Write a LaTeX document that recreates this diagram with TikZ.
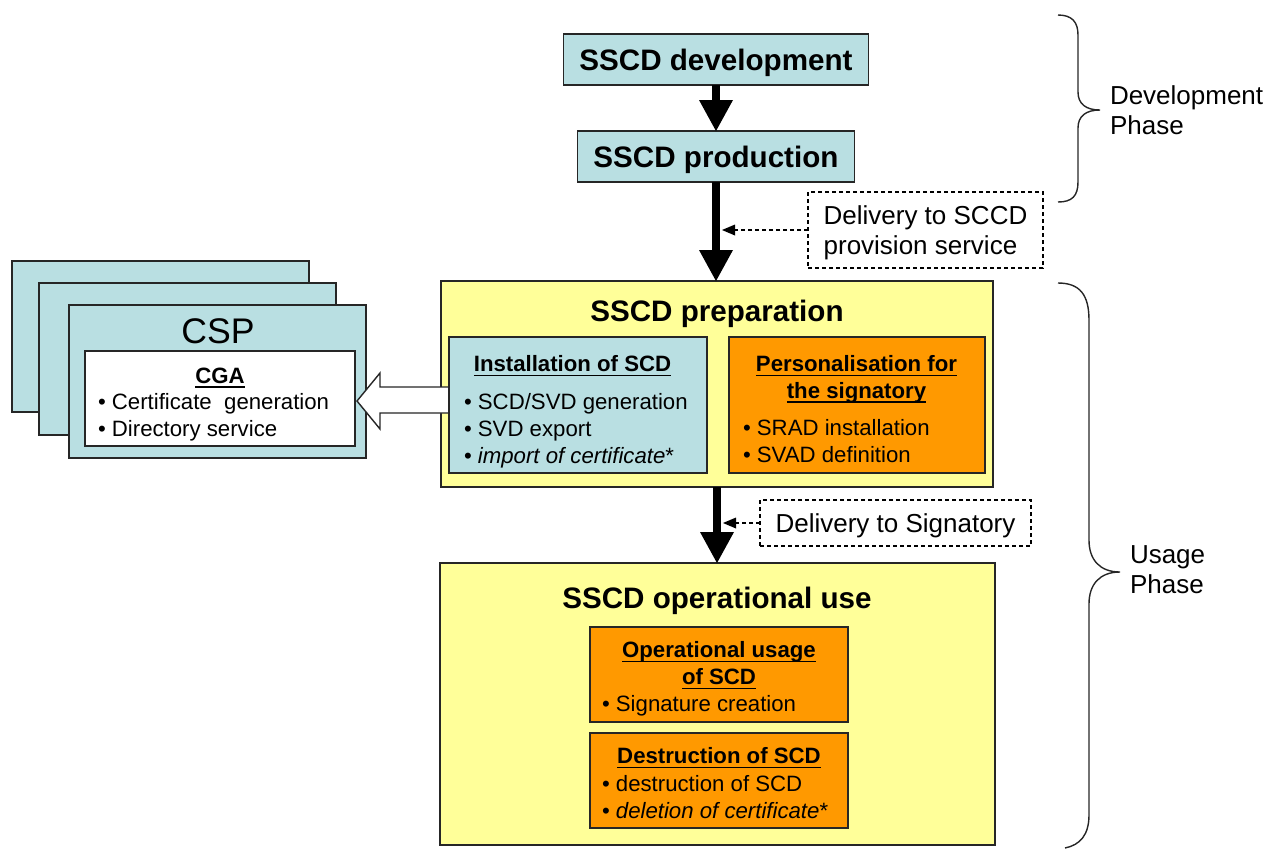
\documentclass[tikz,border=0pt]{standalone}
\usepackage{fontspec}
\setmainfont{Liberation Sans}
\usetikzlibrary{arrows.meta,calc}
\definecolor{boxblue}{RGB}{185,223,226}
\definecolor{boxyellow}{RGB}{255,255,153}
\definecolor{boxorange}{RGB}{255,153,0}
\newcommand\hul[1]{\setbox0=\hbox{#1}\rlap{\rule[-2.2pt]{\wd0}{0.8pt}}\box0}
\begin{document}
\begin{tikzpicture}[x=0.5pt,y=-0.5pt,
  box/.style={draw=black!85, line width=0.7pt, inner sep=0pt, outer sep=0pt},
  dbox/.style={draw=black, line width=0.6pt, dash pattern=on 2pt off 1.5pt, inner sep=0pt, outer sep=0pt},
  txt/.style={inner sep=0pt, outer sep=0pt},
  bigb/.style={font=\bfseries\fontsize{14.8pt}{18pt}\selectfont},
  midt/.style={font=\fontsize{13pt}{15pt}\selectfont},
  smt/.style={font=\fontsize{11.1pt}{13.5pt}\selectfont},
  smb/.style={font=\bfseries\fontsize{11.1pt}{13.5pt}\selectfont},
  bigarrow/.style={line width=4pt, -{Triangle[width=17pt,length=15.5pt,line width=0pt]}},
  dasharr/.style={line width=0.6pt, dash pattern=on 2pt off 1.5pt, -{Triangle[width=5.5pt,length=6.5pt,line width=0pt]}},
  bracepath/.style={line width=0.7pt, black!85},
  hollow/.style={draw=black!85, line width=0.7pt, fill=white, line join=miter}
]
\useasboundingbox (0,0) rectangle (1266,848);

% top boxes
\node[box, fill=boxblue, minimum width=152.5pt, minimum height=25.5pt, bigb, text depth=0pt] (dev) at (716,59.5) {SSCD development};
\node[box, fill=boxblue, minimum width=138.5pt, minimum height=25.5pt, bigb, text depth=0pt] (prod) at (716,156.5) {SSCD production};
\node[dbox, minimum width=117.5pt, minimum height=38pt, midt, align=left, text depth=0pt] (del1) at (925.5,230) {Delivery to SCCD\\provision service};

% CSP stack
\node[box, fill=boxblue, minimum width=148.5pt, minimum height=75.5pt] (csp3) at (160.5,336.5) {};
\node[box, fill=boxblue, minimum width=148.5pt, minimum height=76pt] (csp2) at (187.5,359) {};
\node[box, fill=boxblue, minimum width=148.5pt, minimum height=76.5pt] (csp1) at (217.5,381.5) {};
\node[txt, font=\fontsize{17.8pt}{20pt}\selectfont] (csptxt) at (218,331.5) {CSP};
\node[box, fill=white, minimum width=135pt, minimum height=47.5pt] (cga) at (220,398.5) {};
\node[txt, smb] (cgahead) at (220,378) {\hul{CGA}};
\node[txt, smt, align=left, anchor=west] (cgalist) at (98,417.5) {\textbullet\ Certificate~ generation\\\textbullet\ Directory service};

% preparation
\node[box, fill=boxyellow, minimum width=276pt, minimum height=103pt] (prep) at (717,384) {};
\node[txt, bigb] (preptitle) at (717,314) {SSCD preparation};
\draw[hollow] ([xshift=1pt,yshift=-1.25pt]cga.east) -- ++(23,-28) -- ++(0,14) -- ++(69,0) -- ++(0,26) -- ++(-69,0) -- ++(0,16) -- cycle;
\node[box, fill=boxblue, minimum width=129pt, minimum height=68pt] (inst) at (578,405) {};
\node[box, fill=boxorange, minimum width=128pt, minimum height=68pt] (pers) at (857,405) {};
\node[txt, smb] (insthead) at (572.5,366) {\hul{Installation of SCD}};
\node[txt, smt, align=left, anchor=west] (instlist) at (464,431) {\textbullet\ SCD/SVD generation\\\textbullet\ SVD export\\\textbullet\ \textit{import of certificate}*};
\node[txt, smb, align=center] (pershead) at (856.5,379.5) {\hul{Personalisation for}\\\hul{the signatory}};
\node[txt, smt, align=left, anchor=west] (perslist) at (743,441.5) {\textbullet\ SRAD installation\\\textbullet\ SVAD definition};

% delivery to signatory
\node[dbox, minimum width=135.5pt, minimum height=23pt, midt, text depth=0pt] (del2) at (895.5,523) {Delivery to Signatory};

% operational use
\node[box, fill=boxyellow, minimum width=277.5pt, minimum height=141pt] (oper) at (717.5,704) {};
\node[txt, bigb] (opertitle) at (717,601) {SSCD operational use};
\node[box, fill=boxorange, minimum width=129pt, minimum height=47.5pt] (usage) at (719,674.5) {};
\node[txt, smb, align=center] (usagehead) at (719,665.5) {\hul{Operational usage}\\\hul{of SCD}};
\node[txt, smt, anchor=west] (usagelist) at (602,706) {\textbullet\ Signature creation};
\node[box, fill=boxorange, minimum width=129pt, minimum height=47.5pt] (destr) at (719,780.5) {};
\node[txt, smb] (destrhead) at (719,758) {\hul{Destruction of SCD}};
\node[txt, smt, align=left, anchor=west] (destrlist) at (602,797.5) {\textbullet\ destruction of SCD\\\textbullet\ \textit{deletion of certificate}*};

% arrows
\draw[bigarrow] (dev.south) -- (prod.north);
\draw[bigarrow] (prod.south) -- (prod.south |- prep.north);
\draw[bigarrow] (prep.south) -- (prep.south |- oper.north);
\draw[dasharr] (del1.west) -- ($(prod.south |- del1.west)+(6,0)$);
\draw[dasharr] (del2.west) -- ($(prep.south |- del2.west)+(6,0)$);

% braces and phase labels
\draw[bracepath] (1058,15) .. controls (1072,15) and (1078,22) .. (1078,35) -- (1078,92) .. controls (1078,104) and (1086,110) .. (1100,110) .. controls (1086,110) and (1078,116) .. (1078,128) -- (1078,182) .. controls (1078,196) and (1072,202) .. (1058,202);
\draw[bracepath] (1058,283) .. controls (1080,283) and (1089,295) .. (1089,320) -- (1089,540) .. controls (1089,560) and (1100,572) .. (1120,572) .. controls (1100,572) and (1089,584) .. (1089,604) -- (1089,815) .. controls (1089,835) and (1080,845) .. (1065,848);
\node[txt, midt, align=left, anchor=west] (devphase) at (1110,110) {Development\\Phase};
\node[txt, midt, align=left, anchor=west] (usephase) at (1130,570) {Usage\\Phase};
\end{tikzpicture}
\end{document}
